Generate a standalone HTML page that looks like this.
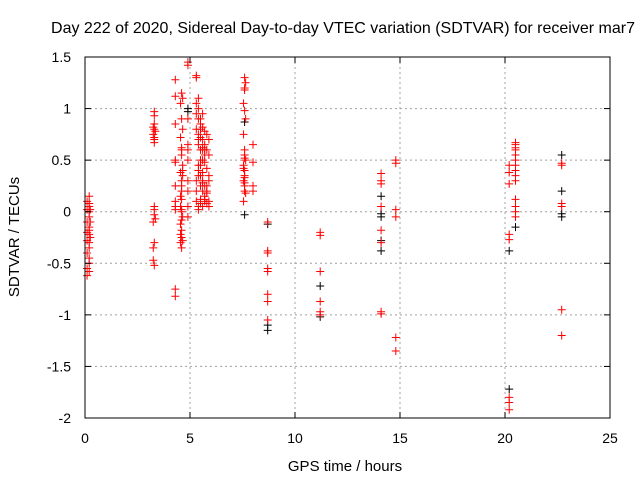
<!DOCTYPE html>
<html><head><meta charset="utf-8"><style>
body{margin:0;background:#fff;}
svg text{font-family:"Liberation Sans",sans-serif;font-size:14px;fill:#000;}
</style></head><body>
<svg id="chart" width="640" height="480">
<text x="343" y="33" text-anchor="middle" style="font-size:16px">Day 222 of 2020, Sidereal Day-to-day VTEC variation (SDTVAR) for receiver mar7</text>
<text x="345" y="471" text-anchor="middle" style="font-size:15px">GPS time / hours</text>
<text transform="translate(19,237) rotate(-90)" text-anchor="middle" style="font-size:15px">SDTVAR / TECUs</text>
<g id="grid"></g><g id="marks"></g>
<rect x="85" y="57" width="525" height="361" fill="none" stroke="#000" stroke-width="1"/>
<g id="ticks"></g>
</svg>
<script>
const xTicks=[0,5,10,15,20,25];
const yTicks=[1.5,1,0.5,0,-0.5,-1,-1.5,-2];
const blackHours=[4.9,7.6,8.7,11.2,14.1,20.2,20.5,22.7];
const blackValues=[[1.0,0.97],[-0.03,0.87],[-0.12,-1.1,-1.15],[-0.72,-1.02],[0.15,-0.02,-0.05,-0.38,-0.28],[-1.72,-0.38],[-0.15],[0.55,0.2,-0.02,-0.05]];
const redHours=[0.1,0.2,0.25,3.25,3.3,3.35,4.3,4.55,4.6,4.65,4.9,5.3,5.4,5.5,5.6,5.7,5.8,5.9,7.55,7.6,7.65,8.0,8.7,11.2,14.1,14.8,20.2,20.5,22.7];
const redValues=[
[0.1,0.02,-0.1,-0.2,-0.28,-0.4,-0.55,-0.62],
[0.15,0.05,0,-0.05,-0.15,-0.22,-0.35,-0.45,-0.58,-0.18,-0.3,-0.5,0.08],
[0.02,-0.1,-0.25],
[0.82,0.75,-0.1,-0.35,-0.47],
[0.97,0.93,0.85,0.8,0.7,0.67,0.05,0.02,-0.03,-0.3,-0.52,0.72],
[0.78,-0.07],
[1.28,1.12,0.85,0.5,0.25,0.1,0.05,-0.75,-0.82,0.48,0.02],
[1.05,0.72,0.38,0.05,-0.12,-0.3,-0.22,0.15],
[1.15,0.9,0.62,0.55,0.3,0.2,0.12,0,-0.18,-0.25,-0.35,0.6,0.25,-0.08,0.02],
[1.1,0.8,0.45,-0.05,0.35,-0.28,0.4],
[1.45,1.42,0.9,0.65,0.6,0.3,0.2,0.05,-0.05,0.5],
[1.32,1.3,1.05,0.95,0.8,0.3,0.2,0.1],
[1.1,1.0,0.9,0.75,0.7,0.65,0.45,0.4,0.35,0.05,0.02],
[0.85,0.8,0.72,0.6,0.5,0.45,0.35,0.25,0.12,0.08,0.9],
[0.82,0.7,0.6,0.5,0.38,0.2,0.62,0.3,0.28,0.05,0.95],
[0.78,0.65,0.48,0.25,0.15,0.1,0.55,0.12,0.6],
[0.75,0.6,0.42,0.2,0.08,0.25,0.18],
[0.7,0.55,0.3,0.1,0.05,0.35],
[1.05,0.75,0.45,0.3,0.1,0.42],
[1.3,1.18,0.98,0.6,0.55,0.4,0.35,0.25,0.2,0.28,1.2,0.52,0.33],
[1.25,0.9,0.5,0.18],
[0.65,0.48,0.25,0.2],
[-0.1,-0.38,-0.4,-0.55,-0.58,-0.8,-0.87,-1.05],
[-0.2,-0.23,-0.58,-0.87,-0.97,-1.0],
[0.37,0.3,0.27,0.05,-0.18,-0.3,-0.97,-0.99],
[0.5,0.47,0.02,-0.05,-1.22,-1.35],
[0.45,0.38,0.27,-0.22,-0.27,-1.8,-1.85,-1.92],
[0.67,0.62,0.55,0.5,0.45,0.4,0.3,0.12,0.05,0,-0.05,0.65,0.6,0.35],
[0.47,0.45,0.08,0.05,-0.95,-1.2]];
const NS="http://www.w3.org/2000/svg";
function px(x){return 85+x*21;}
function py(v){return 57+(1.5-v)*361/3.5;}
const grid=document.getElementById('grid'),ticks=document.getElementById('ticks'),marks=document.getElementById('marks');
function mk(t,a,p){const e=document.createElementNS(NS,t);for(const k in a)e.setAttribute(k,a[k]);p.appendChild(e);return e;}
xTicks.forEach(t=>{
  const X=px(t);
  if(t>0&&t<25){const g=mk('line',{x1:X,x2:X,y1:57,y2:418,stroke:'#a0a0a0','stroke-dasharray':'2,3'},grid);
  
  }
  mk('line',{x1:X,x2:X,y1:418,y2:412,stroke:'#000'},ticks);mk('line',{x1:X,x2:X,y1:57,y2:63,stroke:'#000'},ticks);
  const l=mk('text',{x:X,y:443,'text-anchor':'middle'},ticks);l.textContent=t;
  
  
});
yTicks.forEach(t=>{
  const Y=py(t);
  if(t<1.5&&t>-2){const g=mk('line',{x1:85,x2:610,y1:Y,y2:Y,stroke:'#a0a0a0','stroke-dasharray':'2,3'},grid);
  
  }
  mk('line',{x1:85,x2:91,y1:Y,y2:Y,stroke:'#000'},ticks);mk('line',{x1:610,x2:604,y1:Y,y2:Y,stroke:'#000'},ticks);
  const l=mk('text',{x:71,y:Y+5,'text-anchor':'end'},ticks);l.textContent=t;
  
  
});
function plus(x,v,c,name){
  const X=px(x),Y=py(v);
  const p=mk('path',{d:`M${X-4} ${Y}H${X+4}M${X} ${Y-4}V${Y+4}`,stroke:c,'stroke-width':1,fill:'none'},marks);
  
  
}
blackHours.forEach((h,i)=>blackValues[i].forEach(v=>plus(h,v,'#000','black-point')));
redHours.forEach((h,i)=>redValues[i].forEach(v=>plus(h,v,'#ff0000','red-point')));
</script>
</body></html>
